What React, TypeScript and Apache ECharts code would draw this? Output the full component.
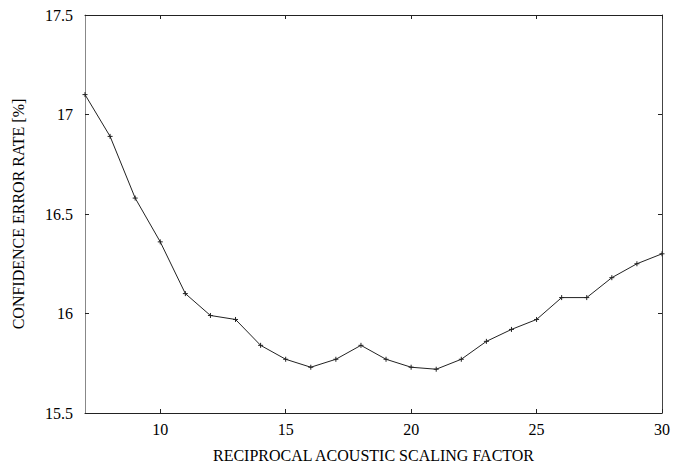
import React, { useEffect, useRef } from "react";
import * as echarts from "echarts";

const xValues = [7, 8, 9, 10, 11, 12, 13, 14, 15, 16, 17, 18, 19, 20, 21, 22, 23, 24, 25, 26, 27, 28, 29, 30];
const errorRate = [17.1, 16.89, 16.58, 16.36, 16.1, 15.99, 15.97, 15.84, 15.77, 15.73, 15.77, 15.84, 15.77, 15.73, 15.72, 15.77, 15.86, 15.92, 15.97, 16.08, 16.08, 16.18, 16.25, 16.3];
const xTicks = [10, 15, 20, 25, 30];
const xTitle = "RECIPROCAL ACOUSTIC SCALING FACTOR";
const yTitle = "CONFIDENCE ERROR RATE [%]";

const FONT = "'Liberation Serif', 'DejaVu Serif', serif";

export default function App() {
  const ref = useRef<HTMLDivElement>(null);
  useEffect(() => {
    if (!ref.current) return;
    const chart = echarts.init(ref.current, undefined, { renderer: "svg" });
    const line = (c: string) => ({ show: true, lineStyle: { color: c, width: 1 } });
    const tick = { show: true, inside: true, length: 4, lineStyle: { color: "#222" } };
    const xTick = { ...tick, customValues: xTicks };
    chart.setOption({
      animation: false,
      backgroundColor: "#fff",
      grid: { left: 85, right: 8, top: 15, bottom: 53 },
      xAxis: [
        {
          type: "value",
          min: 7,
          max: 30,
          name: xTitle,
          nameLocation: "middle",
          nameGap: 34,
          nameTextStyle: { fontFamily: FONT, fontSize: 16, color: "#000" },
          axisLine: line("#222"),
          axisTick: xTick,
          splitLine: { show: false },
          axisLabel: { customValues: xTicks, fontFamily: FONT, fontSize: 16, color: "#000", margin: 8 },
        },
        {
          type: "value",
          position: "top",
          min: 7,
          max: 30,
          axisLine: line("#222"),
          axisTick: xTick,
          splitLine: { show: false },
          axisLabel: { show: false },
        },
      ],
      yAxis: [
        {
          type: "value",
          min: 15.5,
          max: 17.5,
          interval: 0.5,
          name: yTitle,
          nameLocation: "middle",
          nameGap: 59,
          nameTextStyle: { fontFamily: FONT, fontSize: 16, color: "#000" },
          axisLine: line("#888"),
          axisTick: tick,
          splitLine: { show: false },
          axisLabel: { fontFamily: FONT, fontSize: 16, color: "#000", margin: 12 },
        },
        {
          type: "value",
          position: "right",
          min: 15.5,
          max: 17.5,
          interval: 0.5,
          axisLine: line("#444"),
          axisTick: tick,
          splitLine: { show: false },
          axisLabel: { show: false },
        },
      ],
      series: [
        {
          type: "line",
          data: xValues.map((x, i) => [x, errorRate[i]]),
          color: "#222",
          lineStyle: { color: "#222", width: 1 },
          symbol: "path://M5,0L5,10M0,5L10,5",
          symbolSize: 5,
          itemStyle: { color: "none", borderColor: "#222", borderWidth: 1 },
        },
      ],
    });
    return () => chart.dispose();
  }, []);
  return <div ref={ref} style={{ position: "fixed", left: 0, top: 0, width: 673, height: 468 }} />;
}
